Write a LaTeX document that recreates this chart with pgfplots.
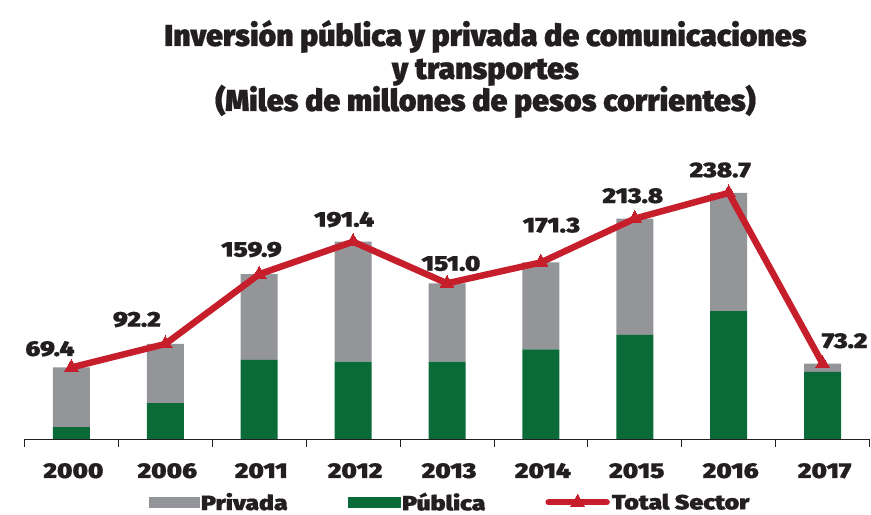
\documentclass[border=0pt]{standalone}
\usepackage{fontspec}
\setmainfont{Fira Sans Black}[FakeBold=0.6]
\newfontfamily\wf{Fira Sans Black}[FakeStretch=1.2,FakeBold=0.6]
\usepackage{pgfplots}
\usepackage{pgfplotstable}
\pgfplotsset{compat=1.18}
\definecolor{priv}{HTML}{939598}
\definecolor{pub}{HTML}{0A6B38}
\definecolor{tot}{HTML}{C61F2B}
\definecolor{txt}{HTML}{231F20}

\pgfplotsset{
  totlegend/.style={legend image code/.code={%
    \draw[##1, line cap=round] (0bp,0bp) -- (58bp,0bp);
    \draw[##1] plot coordinates {(29bp,0bp)};}},
  privlegend/.style={legend image code/.code={\fill[priv] (0bp,-5bp) rectangle (50bp,5bp);}},
  publegend/.style={legend image code/.code={\fill[pub] (0bp,-5bp) rectangle (52bp,5bp);}},
}

\pgfplotstableread{
x pub priv tot
0 11.4 58.0 69.4
1 34.7 57.5 92.2
2 76.7 83.2 159.9
3 75.0 116.4 191.4
4 75.0 76.0 151.0
5 87.0 84.3 171.3
6 101.0 112.8 213.8
7 124.0 114.7 238.7
8 65.0 8.2 73.2
}\data

\begin{document}
\begin{tikzpicture}[x=1bp,y=1bp]
\useasboundingbox (0,0) rectangle (871,515);
\pgfplotsset{
  base/.style={
    at={(24.5bp,76bp)}, anchor=south west,
    scale only axis, width=845bp, height=268bp,
    xmin=-0.5, xmax=8.5, ymin=0, ymax=260,
  }
}
\begin{axis}[base,
  ybar stacked, bar width=37bp,
  axis y line=none,
  axis x line*=bottom,
  x axis line style={txt, line width=0.9bp},
  xtick={0,...,8},
  xticklabels={2000,2006,2011,2012,2013,2014,2015,2016,2017},
  major tick length=0pt,
  extra x ticks={-0.5,0.5,1.5,2.5,3.5,4.5,5.5,6.5,7.5,8.5},
  extra x tick labels={},
  extra x tick style={major tick length=8bp, tick align=outside, tick style={txt, line width=0.9bp}},
  xticklabel style={font=\wf\fontsize{21.5}{24}\selectfont, text=txt, anchor=base, yshift=-39bp, xshift=2bp, inner sep=0pt},
  /pgf/number format/assume math mode=true,
]
\addplot[fill=pub, draw=none] table[x=x,y=pub]{\data};
\addplot[fill=priv, draw=none] table[x=x,y=priv]{\data};
\end{axis}

\begin{axis}[base,
  axis lines=none, clip=false,
  legend columns=3,
  legend style={at={(0.5035,-0.2360)}, anchor=center, draw=none, fill=none,
    font=\wf\fontsize{20.8}{24}\selectfont, text=txt,
    /tikz/every even column/.append style={column sep=58bp}},
  legend cell align=left,
]
\addlegendimage{privlegend}
\addlegendentry{Privada}
\addlegendimage{publegend}
\addlegendentry{Pública}
\addplot[tot, line width=6.5bp, line join=round, mark=triangle*, mark size=8bp, mark options={solid, line width=0pt}, totlegend]
  table[x=x,y=tot]{\data};
\addlegendentry{Total Sector}

\begin{scope}[every node/.style={font=\wf\fontsize{21.5}{24}\selectfont, text=txt, anchor=base, inner sep=0pt}]
\node[xshift=-21.5bp, yshift=11.5bp] at (axis cs:0,69.4) {69.4};
\node[xshift=-28.5bp, yshift=17.3bp] at (axis cs:1,92.2) {92.2};
\node[xshift=-7.8bp, yshift=17.5bp] at (axis cs:2,159.9) {159.9};
\node[xshift=-9bp, yshift=15bp] at (axis cs:3,191.4) {191.4};
\node[xshift=4bp, yshift=12.6bp] at (axis cs:4,151.0) {151.0};
\node[xshift=10.5bp, yshift=30bp] at (axis cs:5,171.3) {171.3};
\node[xshift=-2bp, yshift=15.6bp] at (axis cs:6,213.8) {213.8};
\node[xshift=-8.5bp, yshift=15.7bp] at (axis cs:7,238.7) {238.7};
\node[xshift=22bp, yshift=15.5bp] at (axis cs:8,73.2) {73.2};
\end{scope}
\end{axis}

\begin{scope}[every node/.style={font=\fontsize{30.4}{32}\selectfont, text=txt, anchor=base, inner sep=0pt}]
\node at (485.5,469) {Inversión pública y privada de comunicaciones};
\node at (485.5,436) {y transportes};
\node at (485.5,404) {(Miles de millones de pesos corrientes)};
\end{scope}
\end{tikzpicture}
\end{document}
